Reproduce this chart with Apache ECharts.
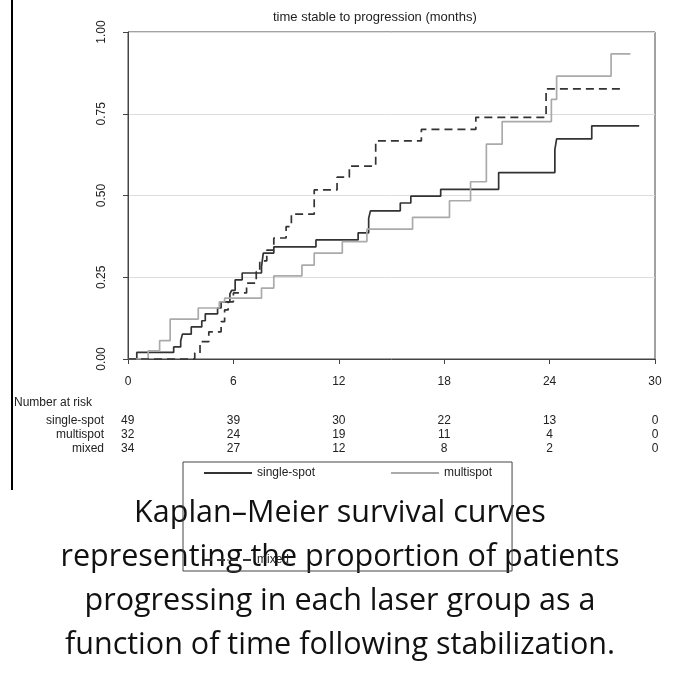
<!DOCTYPE html>
<html>
<head>
<meta charset="utf-8">
<script src="https://cdn.jsdelivr.net/npm/echarts@6/dist/echarts.min.js"></script>
<style>
  body { margin: 0; background: #fff; }
  #chart { width: 680px; height: 680px; }
</style>
</head>
<body>
<div id="chart"></div>
<script>
// step curves: [months, proportion]
const singleSpot = [[0,0],[0.5,0.02],[2.6,0.037],[3.0,0.056],[3.1,0.076],[3.6,0.098],[4.2,0.117],[4.4,0.138],[5.1,0.156],[5.3,0.175],[5.8,0.199],[5.9,0.21],[6.1,0.242],[6.5,0.263],[7.6,0.282],[7.7,0.324],[8.3,0.343],[10.7,0.364],[13.1,0.386],[13.7,0.43],[13.8,0.453],[15.5,0.477],[16.1,0.498],[17.8,0.519],[21.1,0.57],[24.3,0.64],[24.4,0.673],[26.4,0.713],[29.1,0.713]];
const multiSpot = [[0,0],[1.15,0.025],[1.8,0.056],[2.4,0.122],[4.0,0.156],[5.2,0.175],[5.5,0.186],[7.6,0.217],[8.3,0.254],[9.9,0.287],[10.6,0.324],[12.2,0.359],[13.6,0.397],[16.2,0.433],[18.3,0.484],[19.5,0.542],[20.4,0.657],[21.3,0.726],[24.1,0.794],[24.4,0.865],[27.5,0.933],[28.6,0.933]];
const mixed = [[0,0],[3.8,0.018],[4.1,0.053],[4.6,0.083],[5.3,0.114],[5.5,0.15],[5.7,0.175],[6.0,0.202],[6.75,0.232],[7.3,0.267],[7.5,0.30],[7.9,0.333],[8.3,0.37],[9.0,0.405],[9.3,0.443],[10.6,0.517],[11.9,0.556],[12.6,0.59],[14.1,0.667],[16.7,0.702],[19.8,0.739],[23.8,0.826],[28.1,0.826]];

const riskTimes = [0, 6, 12, 18, 24, 30];
const riskGroups = ['single-spot', 'multispot', 'mixed'];
const riskSingle = [49, 39, 30, 22, 13, 0];
const riskMulti = [32, 24, 19, 11, 4, 0];
const riskMixed = [34, 27, 12, 8, 2, 0];

const caption = ['Kaplan–Meier survival curves', 'representing the proportion of patients', 'progressing in each laser group as a', 'function of time following stabilization.'];

const chart = echarts.init(document.getElementById('chart'));
const small = { fontFamily: 'Liberation Sans', fontSize: 12, color: '#222' };
const font = '12px Liberation Sans';

function stepSeries(name, data, color, type) {
  return {
    name, type: 'line', step: 'end', data, symbol: 'none',
    lineStyle: { color, width: 1.7, type }, itemStyle: { color }
  };
}

chart.setOption({
  animation: false,
  title: {
    text: 'time stable to progression (months)', left: 268, top: 6,
    textStyle: { fontFamily: 'Liberation Sans', fontSize: 13, fontWeight: 'normal', color: '#222' }
  },
  grid: { left: 128, right: 25, top: 32, bottom: 321, show: true, borderColor: '#444', borderWidth: 1 },
  xAxis: {
    type: 'value', min: 0, max: 30, interval: 6, offset: 8,
    axisLine: { lineStyle: { color: '#444' } },
    axisTick: { lineStyle: { color: '#444' } },
    axisLabel: { ...small, margin: 9 },
    splitLine: { show: false }
  },
  yAxis: {
    type: 'value', min: 0, max: 1, interval: 0.25, offset: 8,
    axisLine: { show: true, lineStyle: { color: '#444' } },
    axisTick: { show: true, lineStyle: { color: '#444' } },
    axisLabel: { ...small, rotate: 90, margin: 12, formatter: v => v.toFixed(2) },
    splitLine: { lineStyle: { color: '#ddd' } }
  },
  legend: {
    left: 183, top: 462, width: 415, itemGap: 75, itemWidth: 48, itemHeight: 2,
    borderColor: '#444', borderWidth: 1, padding: [5, 20],
    textStyle: small,
    data: ['single-spot', 'multispot', 'mixed']
  },
  series: [
    stepSeries('single-spot', singleSpot, '#333', 'solid'),
    stepSeries('multispot', multiSpot, '#aaa', 'solid'),
    stepSeries('mixed', mixed, '#333', [8, 5])
  ]
});

// risk table and caption
const g = [
  { type: 'line', shape: { x1: 12, y1: 0, x2: 12, y2: 490 }, style: { stroke: '#000', lineWidth: 2 } },
  { type: 'text', left: 14, top: 397, style: { text: 'Number at risk', font, fill: '#222' } }
];
const counts = [riskSingle, riskMulti, riskMixed];
riskGroups.forEach((name, r) => {
  const y = 421 + r * 14;
  g.push({ type: 'text', x: 104, y, style: { text: name, font, fill: '#222', textAlign: 'right', textVerticalAlign: 'middle' } });
  riskTimes.forEach((t, i) => {
    const x = chart.convertToPixel({ xAxisIndex: 0 }, t) + (i === 0 ? -7 : 0);
    g.push({ type: 'text', x, y, style: { text: String(counts[r][i]), font, fill: '#222', textAlign: i === 0 ? 'left' : 'center', textVerticalAlign: 'middle' } });
  });
});
caption.forEach((line, i) => {
  g.push({ type: 'text', x: 340, y: 513 + i * 44, style: { text: line, font: '30.5px "Open Sans"', fill: '#111', textAlign: 'center', textVerticalAlign: 'middle' } });
});
chart.setOption({ graphic: g });
</script>
</body>
</html>
